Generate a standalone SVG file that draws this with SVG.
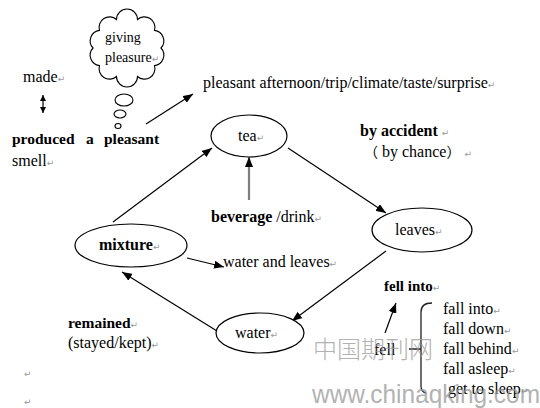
<svg xmlns="http://www.w3.org/2000/svg" width="540" height="408" viewBox="0 0 540 408">
<defs>
<marker id="ah" viewBox="0 0 10 8" refX="10" refY="4" markerWidth="10" markerHeight="8" orient="auto" markerUnits="userSpaceOnUse"><path d="M0,0 L10,4 L0,8 z" fill="#000"/></marker>
<marker id="ahs" viewBox="0 0 6 6" refX="6" refY="3" markerWidth="6" markerHeight="6" orient="auto-start-reverse" markerUnits="userSpaceOnUse"><path d="M0,0 L6,3 L0,6 z" fill="#000"/></marker>
<style>
text{font-family:"Liberation Serif","Times New Roman",serif;font-size:16px;fill:#000}
.b{font-weight:bold}
.r{font-family:"DejaVu Sans",sans-serif;font-size:9px;fill:#999;font-weight:normal}
.node{fill:#fff;stroke:#000;stroke-width:1.2}
.c{fill:none;stroke:#000;stroke-width:1.2}
.wm{font-family:"Liberation Sans",Arial,sans-serif;fill:#999;opacity:0.75}
.wmc{font-family:"Noto Sans CJK SC",sans-serif;fill:#999;opacity:0.75;font-weight:300}
</style>
</defs>
<rect width="540" height="408" fill="#fff"/>

<g id="connectors">
<line class="c" x1="43" y1="95" x2="43" y2="113" marker-start="url(#ahs)" marker-end="url(#ahs)"/>
<line class="c" x1="146" y1="124" x2="193" y2="94" marker-end="url(#ah)"/>
<line class="c" x1="113" y1="222" x2="212" y2="148" marker-end="url(#ah)"/>
<line x1="249" y1="200" x2="249" y2="157" stroke="#7f7f7f" stroke-width="2.2" marker-end="url(#ah)"/>
<line class="c" x1="288" y1="148" x2="386" y2="213" marker-end="url(#ah)"/>
<line class="c" x1="386" y1="251" x2="292" y2="321" marker-end="url(#ah)"/>
<line class="c" x1="217" y1="331" x2="122" y2="272" marker-end="url(#ah)"/>
<line class="c" x1="187" y1="258" x2="224" y2="267" marker-end="url(#ah)"/>
<line class="c" x1="385" y1="333" x2="396" y2="303" marker-end="url(#ah)"/>
<path d="M432,303 Q421,303 421,312 L421,386 Q421,392 426,393 M409,349 L421,349" fill="none" stroke="#222" stroke-width="1.3"/>
</g>

<g id="cloud">
<path d="M161,48 A10.5,10.5 0 0 1 154.5,65.6 A10.5,10.5 0 0 1 137.5,76.5 A10.5,10.5 0 0 1 116.5,76.5 A10.5,10.5 0 0 1 99.5,65.6 A10.5,10.5 0 0 1 93,48 A10.5,10.5 0 0 1 99.5,30.4 A10.5,10.5 0 0 1 116.5,19.5 A10.5,10.5 0 0 1 137.5,19.5 A10.5,10.5 0 0 1 154.5,30.4 A10.5,10.5 0 0 1 161,48 Z" fill="#fff" stroke="#000" stroke-width="1.1"/>
<ellipse cx="124" cy="100" rx="9" ry="6" fill="#fff" stroke="#000" stroke-width="1.1"/>
<ellipse cx="120" cy="114" rx="6" ry="4" fill="#fff" stroke="#000" stroke-width="1.1"/>
<ellipse cx="118" cy="126" rx="3" ry="2.5" fill="#fff" stroke="#000" stroke-width="1.1"/>
<text x="105" y="42" style="font-size:14px">giving</text>
<text x="105" y="62" style="font-size:14px">pleasure<tspan class="r">↵</tspan></text>
</g>

<g id="tea"><ellipse class="node" cx="249" cy="136" rx="38" ry="21"/><text x="238" y="141">tea<tspan class="r">↵</tspan></text></g>
<g id="leaves"><ellipse class="node" cx="422" cy="230" rx="50" ry="22"/><text x="395" y="235">leaves<tspan class="r">↵</tspan></text></g>
<g id="water"><ellipse class="node" cx="260" cy="333" rx="44" ry="20"/><text x="235" y="338">water<tspan class="r">↵</tspan></text></g>
<g id="mixture"><ellipse class="node" cx="131" cy="245.5" rx="56" ry="21.5"/><text class="b" x="99" y="250">mixture<tspan class="r">↵</tspan></text></g>

<g id="labels">
<text x="23" y="82">made<tspan class="r">↵</tspan></text>
<text class="b" x="12" y="144" style="font-size:15.5px">produced</text>
<text class="b" x="86" y="144" style="font-size:15.5px">a</text>
<text class="b" x="104" y="144" style="font-size:15.5px">pleasant</text>
<text x="12" y="166">smell<tspan class="r">↵</tspan></text>
<text x="203" y="88">pleasant afternoon/trip/climate/taste/surprise<tspan class="r">↵</tspan></text>
<text class="b" x="360" y="136">by accident <tspan class="r">↵</tspan></text>
<text x="364" y="157"><tspan style="font-family:'Noto Sans CJK SC',sans-serif;font-size:14px">（</tspan> by chance<tspan style="font-family:'Noto Sans CJK SC',sans-serif;font-size:14px">）</tspan> <tspan class="r">↵</tspan></text>
<text x="211" y="222"><tspan class="b">beverage</tspan> /drink<tspan class="r">↵</tspan></text>
<text x="223" y="267">water and leaves<tspan class="r">↵</tspan></text>
<text class="b" x="384" y="291" style="font-size:15px">fell into<tspan class="r">↵</tspan></text>
<text class="b" x="68" y="328" style="font-size:15.5px">remained<tspan class="r">↵</tspan></text>
<text x="68" y="348">(stayed/kept)<tspan class="r">↵</tspan></text>
<text x="374" y="355">fell</text>
<text x="443" y="314">fall into<tspan class="r">↵</tspan></text>
<text x="443" y="334">fall down<tspan class="r">↵</tspan></text>
<text x="443" y="354">fall behind<tspan class="r">↵</tspan></text>
<text x="443" y="374">fall asleep<tspan class="r">↵</tspan></text>
<text x="448" y="394">get to sleep<tspan class="r">↵</tspan></text>
<text class="r" x="24" y="377">↵</text>
<text class="r" x="24" y="405">↵</text>
</g>

<g id="watermark">
<text class="wmc" x="313" y="358" style="font-size:24px">中国期刊网</text>
<text class="wm" x="312" y="403" style="font-size:26px" textLength="228" lengthAdjust="spacingAndGlyphs">www.chinaqking.com</text>
</g>
</svg>
